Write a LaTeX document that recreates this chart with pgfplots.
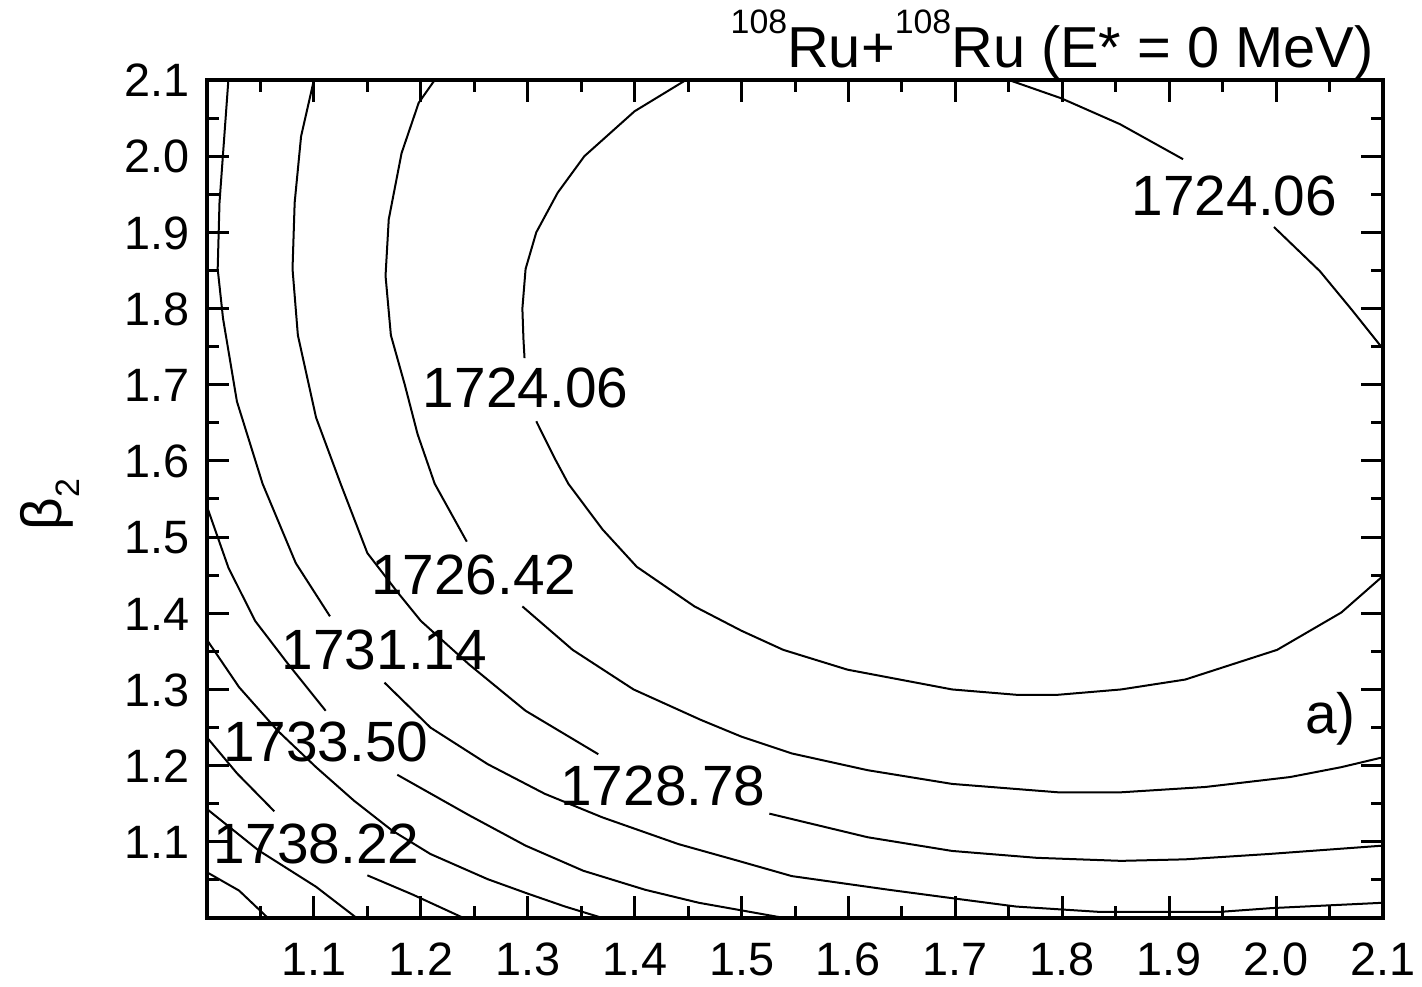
\documentclass[border=0pt]{standalone}
\usepackage{fontspec}
\setmainfont{Liberation Sans}
\usepackage{pgfplots}
\pgfplotsset{compat=1.18}
\newcommand{\lbl}{\fontsize{28.5}{34}\selectfont}
\newcommand{\sups}[1]{\raisebox{17bp}{\fontsize{17}{18}\selectfont #1}}
\pgfplotsset{ct/.style={black, solid, line width=1bp, mark=none}}
\begin{document}
\begin{tikzpicture}
\begin{axis}[
  name=ax,
  scale only axis,
  width=588bp, height=419bp,
  xmin=1.0, xmax=2.1, ymin=1.0, ymax=2.1,
  xtick={1.1,1.2,1.3,1.4,1.5,1.6,1.7,1.8,1.9,2.0,2.1},
  xticklabels={1.1,1.2,1.3,1.4,1.5,1.6,1.7,1.8,1.9,2.0,2.1},
  ytick={1.1,1.2,1.3,1.4,1.5,1.6,1.7,1.8,1.9,2.0,2.1},
  yticklabels={1.1,1.2,1.3,1.4,1.5,1.6,1.7,1.8,1.9,2.0,2.1},
  minor xtick={1.05,1.15,1.25,1.35,1.45,1.55,1.65,1.75,1.85,1.95,2.05},
  minor ytick={1.05,1.15,1.25,1.35,1.45,1.55,1.65,1.75,1.85,1.95,2.05},
  tick align=inside,
  major tick length=11bp,
  minor tick length=6bp,
  tick style={black, line width=1.5bp},
  axis line style={line width=2bp},
  tick label style={font=\fontsize{23.5}{27}\selectfont, text height=16.8bp, text depth=0bp},
  xticklabel style={anchor=north, yshift=-8.5bp},
  yticklabel style={anchor=east, xshift=-5bp},
  clip=false,
]
% 1724.06 inner
\addplot[ct] coordinates {(1.448,2.1) (1.40,2.059) (1.353,2.0) (1.328,1.952) (1.308,1.90) (1.298,1.852) (1.295,1.80) (1.296,1.76) (1.297,1.735)};
\addplot[ct] coordinates {(1.308,1.652) (1.325,1.604) (1.338,1.570) (1.37,1.51) (1.402,1.461) (1.456,1.409) (1.5,1.377) (1.539,1.352) (1.599,1.326) (1.697,1.300) (1.757,1.293) (1.796,1.293) (1.855,1.300) (1.915,1.313) (2.001,1.352) (2.061,1.401) (2.1,1.449)};
% 1724.06 top right
\addplot[ct] coordinates {(1.75,2.1) (1.799,2.076) (1.854,2.042) (1.913,1.996)};
\addplot[ct] coordinates {(1.998,1.907) (2.041,1.849) (2.071,1.798) (2.1,1.747)};
% 1726.42
\addplot[ct] coordinates {(1.213,2.1) (1.198,2.07) (1.182,2.004) (1.170,1.917) (1.167,1.843) (1.172,1.765) (1.185,1.70) (1.197,1.635) (1.213,1.570) (1.243,1.494)};
\addplot[ct] coordinates {(1.295,1.409) (1.342,1.352) (1.399,1.30) (1.462,1.260) (1.5,1.238) (1.547,1.216) (1.618,1.194) (1.697,1.176) (1.796,1.165) (1.855,1.165) (1.934,1.172) (2.013,1.185) (2.061,1.198) (2.1,1.211)};
% 1728.78
\addplot[ct] coordinates {(1.1,2.1) (1.088,2.026) (1.082,1.939) (1.080,1.852) (1.085,1.765) (1.102,1.657) (1.125,1.570) (1.15,1.479) (1.178,1.428) (1.2,1.39) (1.245,1.333) (1.298,1.272) (1.366,1.215)};
\addplot[ct] coordinates {(1.526,1.137) (1.618,1.106) (1.697,1.088) (1.776,1.079) (1.855,1.075) (1.915,1.077) (1.993,1.084) (2.1,1.095)};
% 1731.14
\addplot[ct] coordinates {(1.02,2.1) (1.0117,1.939) (1.010,1.852) (1.015,1.787) (1.028,1.678) (1.052,1.570) (1.083,1.466) (1.115,1.396)};
\addplot[ct] coordinates {(1.166,1.309) (1.209,1.250) (1.2625,1.202) (1.316,1.163) (1.37,1.132) (1.441,1.097) (1.497,1.075) (1.547,1.055) (1.638,1.037) (1.697,1.026) (1.757,1.015) (1.835,1.008) (1.947,1.008) (1.996,1.013) (2.1,1.02)};
% 1733.50
\addplot[ct] coordinates {(1.0,1.54) (1.02,1.46) (1.045,1.39) (1.075,1.335) (1.111,1.272)};
\addplot[ct] coordinates {(1.178,1.188) (1.245,1.135) (1.298,1.095) (1.352,1.062) (1.41,1.037) (1.46,1.02) (1.5,1.01) (1.54,1.0)};
% 1735.86
\addplot[ct] coordinates {(1.0,1.365) (1.03,1.303) (1.066,1.246) (1.102,1.198) (1.1375,1.154) (1.173,1.115) (1.209,1.084) (1.2625,1.051) (1.30,1.032) (1.335,1.015) (1.37,1.0)};
% 1738.22
\addplot[ct] coordinates {(1.0,1.237) (1.028,1.19) (1.063,1.14)};
\addplot[ct] coordinates {(1.15,1.056) (1.192,1.031) (1.24,1.0)};
% 1740.58
\addplot[ct] coordinates {(1.0,1.143) (1.048,1.089) (1.102,1.041) (1.14,1.0)};
% 1742.94
\addplot[ct] coordinates {(1.0,1.06) (1.03,1.036) (1.057,1.0)};

% contour labels
\node[anchor=base, inner sep=0, font=\lbl] at (axis cs:1.298,1.670) {1724.06};
\node[anchor=base, inner sep=0, font=\lbl] at (axis cs:1.961,1.922) {1724.06};
\node[anchor=base, inner sep=0, font=\lbl] at (axis cs:1.2495,1.424) {1726.42};
\node[anchor=base, inner sep=0, font=\lbl] at (axis cs:1.166,1.326) {1731.14};
\node[anchor=base, inner sep=0, font=\lbl] at (axis cs:1.111,1.205) {1733.50};
\node[anchor=base, inner sep=0, font=\lbl] at (axis cs:1.1025,1.071) {1738.22};
\node[anchor=base, inner sep=0, font=\lbl] at (axis cs:1.4265,1.148) {1728.78};
\node[anchor=base west, inner sep=0, font=\lbl] at (axis cs:2.027,1.242) {a)};
% title
\node[anchor=base east, inner sep=0, font=\fontsize{29}{34}\selectfont] at ([xshift=-4.5bp,yshift=6bp]rel axis cs:1,1) {\sups{108}Ru+\sups{108}Ru (E* = 0 MeV)};
% y label
\node[anchor=base, rotate=90, inner sep=0, font=\lbl] at ([xshift=-72.5bp]rel axis cs:0,0.493) {β\raisebox{-9bp}{\fontsize{17}{18}\selectfont 2}};
\end{axis}
\pgfresetboundingbox
\path[use as bounding box] ([shift={(-103.5bp,-34.5bp)}]ax.south west) rectangle ([shift={(19.5bp,40bp)}]ax.north east);
\end{tikzpicture}
\end{document}
